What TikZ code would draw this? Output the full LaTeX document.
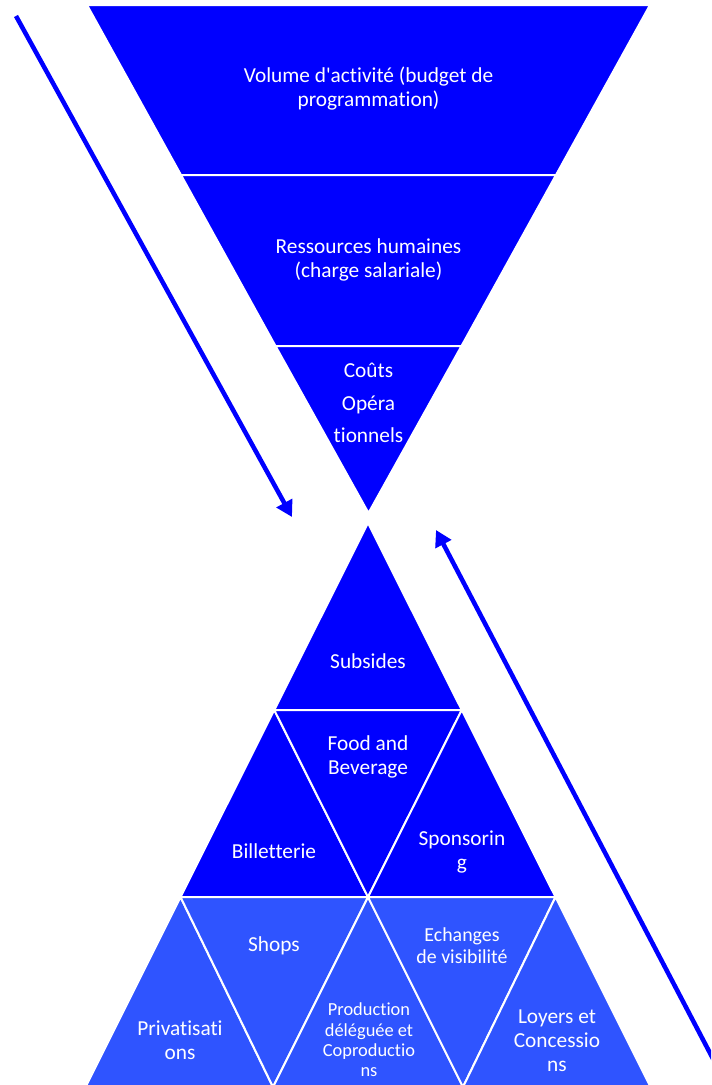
\documentclass[tikz,border=0pt]{standalone}
\usepackage{fontspec}
\setmainfont{Carlito}[Ligatures=NoCommon]
\usetikzlibrary{positioning}
\usetikzlibrary{arrows.meta}
\definecolor{deepblue}{RGB}{0,0,255}
\definecolor{paleblue}{RGB}{47,84,255}
\tikzset{part/.style={fill=deepblue,draw=white,line width=1.5pt,line join=round}}
\tikzset{lowpart/.style={part,fill=paleblue}}
\tikzset{lbl/.style={text=white,align=center,inner sep=0pt,font=\fontsize{16}{18}\selectfont}}
\tikzset{flow/.style={draw=deepblue,line width=3.4pt,-{Triangle[length=12pt,width=13pt]}}}

\begin{document}
\begin{tikzpicture}[x=0.75pt,y=-0.75pt]
\useasboundingbox (0,0) rectangle (711,1085);
\clip (0,0) rectangle (711,1085);

% funnel (costs)
\coordinate (t0l) at (87,5);
\coordinate (t0r) at (650,5);
\coordinate (t1l) at (181,175);
\coordinate (t1r) at (556,175);
\coordinate (t2l) at (275.5,346);
\coordinate (t2r) at (461.5,346);
\coordinate (tip) at (368.5,513);

\draw[part] (t0l) -- (t0r) -- (t1r) -- (t1l) -- cycle;
\draw[part] (t1l) -- (t1r) -- (t2r) -- (t2l) -- cycle;
\draw[part] (t2l) -- (t2r) -- (tip) -- cycle;

% pyramid (revenues)
\coordinate (top) at (368,523);
\coordinate (b1l) at (274.25,710);
\coordinate (b1r) at (461.75,710);
\coordinate (b2l) at (180.5,897);
\coordinate (b2m) at (368,897);
\coordinate (b2r) at (555.5,897);
\coordinate (b3a) at (85.5,1087);
\coordinate (b3b) at (273,1087);
\coordinate (b3c) at (463,1087);
\coordinate (b3d) at (650.5,1087);

\draw[part] (top) -- (b1r) -- (b1l) -- cycle;
\draw[part] (b1l) -- (b2m) -- (b2l) -- cycle;
\draw[part] (b1l) -- (b1r) -- (b2m) -- cycle;
\draw[part] (b1r) -- (b2r) -- (b2m) -- cycle;
\draw[lowpart] (b2l) -- (b3b) -- (b3a) -- cycle;
\draw[lowpart] (b2l) -- (b2m) -- (b3b) -- cycle;
\draw[lowpart] (b2m) -- (b3c) -- (b3b) -- cycle;
\draw[lowpart] (b2m) -- (b2r) -- (b3c) -- cycle;
\draw[lowpart] (b2r) -- (b3d) -- (b3c) -- cycle;

% labels
\node[lbl] (vol) at (368.5,89) {Volume d\textquotesingle activité (budget de\\programmation)};
\node[lbl] (rh) at (368.5,260) {Ressources humaines\\(charge salariale)};
\node[lbl,font=\fontsize{16}{24.5}\selectfont] (couts) at (368.5,403) {Coûts\\Opéra\\tionnels};

\node[lbl] (subs) at (368,661) {Subsides};
\node[lbl] (food) at (368,757) {Food and\\Beverage};
\node[lbl] (bill) at (274,851) {Billetterie};
\node[lbl] (spons) at (462,852) {Sponsorin\\g};
\node[lbl] (shops) at (274,946) {Shops};
\node[lbl] (priv) at (180,1040) {Privatisati\\ons};
\node[lbl,font=\fontsize{13.8}{15.2}\selectfont] (prod) at (369,1040) {Production\\déléguée et\\Coproductio\\ns};
\node[lbl,font=\fontsize{14.9}{16.5}\selectfont] (ech) at (462,946) {Echanges\\de visibilité};
\node[lbl] (loy) at (557,1041) {Loyers et\\Concessio\\ns};

% flows
\coordinate (inA) at (16,16);
\coordinate (inB) at (292,517);
\coordinate (outA) at (722,1076);
\coordinate (outB) at (436,530);
\draw[flow] (inA) -- (inB);
\draw[flow] (outA) -- (outB);

\end{tikzpicture}
\end{document}
